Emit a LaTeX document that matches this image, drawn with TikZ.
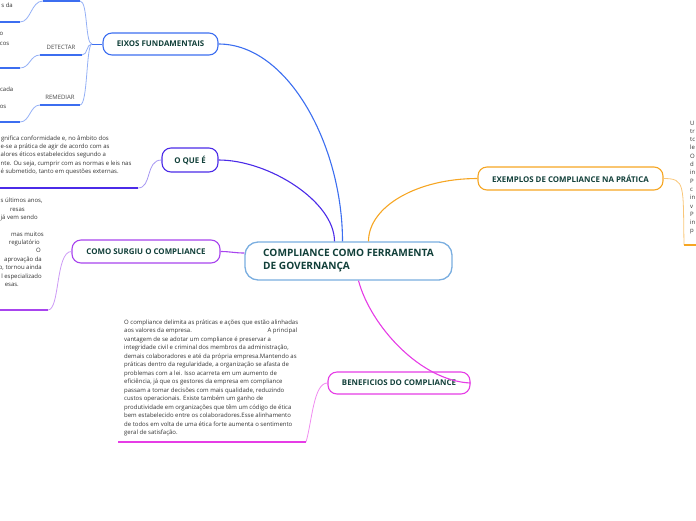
\documentclass[tikz,border=0pt]{standalone}
\usepackage{fontspec}
\setmainfont{Open Sans}
\usetikzlibrary{calc}
\definecolor{titlegreen}{HTML}{12403A}
\definecolor{cBlue}{HTML}{3C6EF0}
\definecolor{cBlueL}{HTML}{94B0F6}
\definecolor{cIndigo}{HTML}{4B2BE8}
\definecolor{cIndigoL}{HTML}{A596F2}
\definecolor{cViolet}{HTML}{A844EE}
\definecolor{cVioletL}{HTML}{CC9AF5}
\definecolor{cOrange}{HTML}{F6A623}
\definecolor{cOrangeL}{HTML}{F9C77A}
\definecolor{cMagenta}{HTML}{E63CE6}
\definecolor{cMagentaL}{HTML}{F08CF0}
\definecolor{cCentral}{HTML}{7AAEE0}
\definecolor{ptext}{HTML}{333333}
\definecolor{lbl}{HTML}{4A4A4A}
\begin{document}
\begin{tikzpicture}[x=1pt,y=-1pt,
  topic/.style={draw, fill=white, rounded corners=9pt, line width=1.1pt, text=titlegreen, font=\fontsize{7.9}{9}\selectfont\bfseries, inner sep=0pt, align=center},
  conn/.style={line width=1.1pt},
  sub/.style={line width=0.8pt},
  uline/.style={line width=1.6pt},
  para/.style={font=\fontsize{6}{8.5}\selectfont, text=ptext, inner sep=0pt},
  frag/.style={para, anchor=base east},
  fragl/.style={para, anchor=base west},
  fragr/.style={para, anchor=base west},
  lab/.style={font=\fontsize{6}{7}\selectfont, text=lbl, inner sep=0pt},
]
\useasboundingbox (0,0) rectangle (696,520);
\clip (0,0) rectangle (696,520);

% main topics
\node[topic, draw=cCentral, line width=1.3pt, minimum width=207pt, minimum height=38pt, rounded corners=13pt, font=\fontsize{10.1}{13}\selectfont\bfseries, align=left] (central) at (348.5,261) {COMPLIANCE COMO FERRAMENTA\\DE GOVERNANÇA};
\node[topic, draw=cBlue, minimum width=115pt, minimum height=22pt] (eixos) at (160.5,44) {EIXOS FUNDAMENTAIS};
\node[topic, draw=cIndigo, minimum width=56pt, minimum height=24pt] (oque) at (190,160) {O QUE É};
\node[topic, draw=cViolet, minimum width=148pt, minimum height=23pt] (como) at (146,251.5) {COMO SURGIU O COMPLIANCE};
\node[topic, draw=cOrange, minimum width=185pt, minimum height=23pt] (exemplos) at (570.5,178.5) {EXEMPLOS DE COMPLIANCE NA PRÁTICA};
\node[topic, draw=cMagenta, minimum width=142pt, minimum height=22pt] (benef) at (399,383) {BENEFICIOS DO COMPLIANCE};

% connectors from central
\draw[conn, cBlue] (eixos.east) .. controls +(70,0) and ($(central.north)+(-6,-95)$) .. ($(central.north)+(-6,0)$);
\draw[conn, cIndigo] (oque.east) .. controls +(50,0) and ($(central.north)+(-14,-40)$) .. ($(central.north)+(-14,0)$);
\draw[conn, cOrange] (exemplos.west) .. controls +(-60,0) and ($(central.north)+(20,-35)$) .. ($(central.north)+(20,0)$);
\draw[conn, cViolet] (como.east) .. controls +(10,0) and +(-10,0) .. ($(central.west)+(0,-8)$);
\draw[conn, cMagenta] ($(central.south)+(10,0)$) .. controls +(12,45) and +(-50,-2) .. (benef.east);

% EIXOS sub-branches
\coordinate (fork) at (92,44);
\coordinate (t1R) at (80,1);  \coordinate (t1L) at (43,1);
\coordinate (detR) at (82,55); \coordinate (detL) at (40,55);
\coordinate (remR) at (80,105); \coordinate (remL) at (40,105);
\coordinate (c1R) at (20,22); \coordinate (c1L) at (0,22);
\coordinate (c2R) at (20,68); \coordinate (c2L) at (0,68);
\coordinate (c3R) at (20,122); \coordinate (c3L) at (0,122);
\draw[sub, cBlue] (eixos.west) -- (fork);
\draw[sub, cBlueL] (fork) .. controls (85,44) and (88,1) .. (t1R);
\draw[sub, cBlueL] (fork) .. controls (86,44) and (88,55) .. (detR);
\draw[sub, cBlueL] (fork) .. controls (86,44) and (88,105) .. (remR);
\draw[uline, cBlue] (t1L) -- (t1R);
\draw[uline, cBlue] (detL) -- (detR);
\draw[uline, cBlue] (remL) -- (remR);
\node[lab] (det) at (61,47.5) {DETECTAR};
\node[lab] (rem) at (60,97.5) {REMEDIAR};
\draw[sub, cBlueL] (t1L) .. controls (31,1) and (31,22) .. (c1R);
\draw[sub, cBlueL] (detL) .. controls (30,55) and (30,68) .. (c2R);
\draw[sub, cBlueL] (remL) .. controls (30,105) and (30,122) .. (c3R);
\draw[uline, cBlue] (c1L) -- (c1R);
\draw[uline, cBlue] (c2L) -- (c2R);
\draw[uline, cBlue] (c3L) -- (c3R);
\node[frag] (e1) at (13,7) {s da};
\node[frag] (e2) at (3.5,35) {o};
\node[frag] (e3) at (9.5,45) {cos};
\node[frag] (e4) at (13.5,91) {cada};
\node[frag] (e5) at (6.5,108) {os};

% O QUE E child
\coordinate (qR) at (138,188); \coordinate (qL) at (0,188);
\draw[sub, cIndigoL] (oque.west) .. controls +(-16,0) and +(14,0) .. (qR);
\draw[uline, cIndigo] (qL) -- (qR);
\node[fragl] (q1) at (1,140) {gnifica conformidade e, no âmbito dos};
\node[fragl] (q2) at (0.5,148) {e-se a prática de agir de acordo com as};
\node[fragl] (q3) at (0.5,156.5) {alores éticos estabelecidos segundo a};
\node[fragl] (q4) at (0.5,165) {nte. Ou seja, cumprir com as normas e leis nas};
\node[fragl] (q5) at (0.5,173.5) {é submetido, tanto em questões externas.};

% COMO SURGIU child
\coordinate (sR) at (48,310); \coordinate (sL) at (0,310);
\draw[sub, cVioletL] (como.west) .. controls +(-16,0) and +(12,0) .. (sR);
\draw[uline, cViolet] (sL) -- (sR);
\node[fragl] (s1) at (0.5,202) {s últimos anos,};
\node[frag] (s2) at (25,211) {resas};
\node[frag] (s3) at (38,219) {já vem sendo};
\node[frag] (s4) at (44,236) {mas muitos};
\node[frag] (s5) at (40,244) {regulatório};
\node[frag] (s6) at (41,252.5) {O};
\node[frag] (s7) at (42,261) {aprovação da};
\node[frag] (s8) at (42,269.5) {o, tornou ainda};
\node[frag] (s9) at (42,278) {l especializado};
\node[frag] (s10) at (19,286.5) {esas.};

% EXEMPLOS child
\coordinate (xL) at (684,245); \coordinate (xR) at (696,245);
\draw[sub, cOrangeL] (exemplos.east) .. controls +(22,0) and +(-1,-60) .. (xL);
\draw[uline, cOrange] (xL) -- (xR);
\foreach \t [count=\i] in {U,tr,tc,le,O,d,in,P,c,in,v,P,in,p}{
  \node[fragr] (x\i) at (690,{125+8.3*(\i-1)}) {\t};
}

% BENEFICIOS child
\coordinate (bR) at (306,442); \coordinate (bL) at (118,442);
\draw[sub, cMagentaL] (benef.west) .. controls +(-14,0) and +(6,-20) .. (bR);
\draw[uline, cMagenta] (bL) -- (bR);
\node[para, anchor=north west, align=left] (btext) at (124,319.5) {O compliance delimita as práticas e ações que estão alinhadas\\
\makebox[173pt][l]{aos valores da empresa.\hfill A principal}\\
vantagem de se adotar um compliance é preservar a\\
integridade civil e criminal dos membros da administração,\\
demais colaboradores e até da própria empresa.Mantendo as\\
práticas dentro da regularidade, a organização se afasta de\\
problemas com a lei. Isso acarreta em um aumento de\\
eficiência, já que os gestores da empresa em compliance\\
passam a tomar decisões com mais qualidade, reduzindo\\
custos operacionais. Existe também um ganho de\\
produtividade em organizações que têm um código de ética\\
bem estabelecido entre os colaboradores.Esse alinhamento\\
de todos em volta de uma ética forte aumenta o sentimento\\
geral de satisfação.};
\end{tikzpicture}
\end{document}
